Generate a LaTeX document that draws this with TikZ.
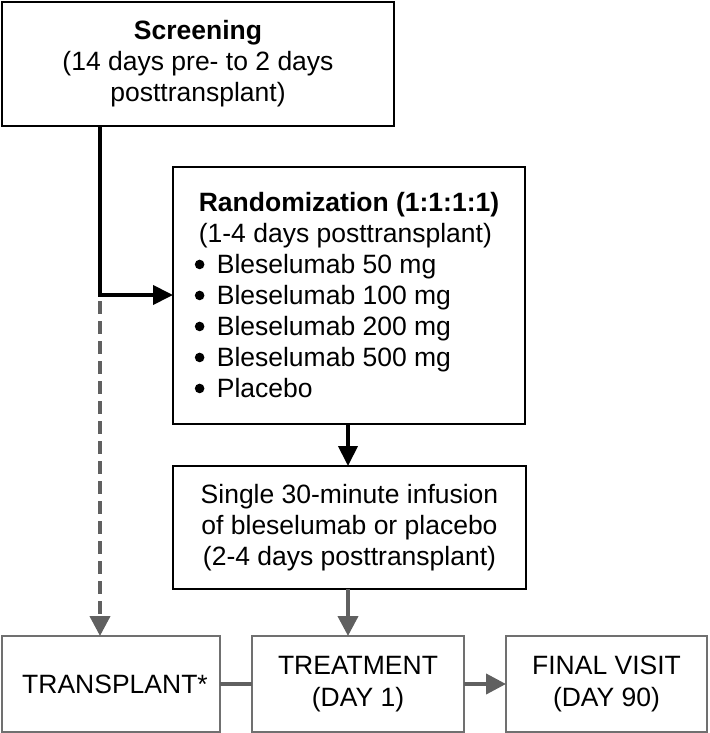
\documentclass[tikz,border=0pt]{standalone}
\usepackage{fontspec}
\setmainfont{Liberation Sans}
\usetikzlibrary{arrows.meta}
\definecolor{boxgray}{RGB}{112,112,112}
\definecolor{arrgray}{RGB}{96,96,96}
\newcommand{\bul}{\makebox[18pt][l]{\hspace*{-4pt}\tikz[x=1pt,y=1pt,baseline=0pt]\fill[black] (5,9.5) circle[radius=4.8pt];}}
\begin{document}
\begin{tikzpicture}[x=1pt,y=-1pt,
  txt/.style={font=\fontsize{26.5}{31}\selectfont, inner sep=0pt, outer sep=0pt},
  blackbox/.style={txt, draw=black, line width=2pt, rectangle},
  graybox/.style={txt, draw=boxgray, line width=2pt, rectangle},
  blackarrow/.style={draw=black, line width=4pt, -{Triangle[length=20pt,width=19pt]}},
  grayarrow/.style={draw=arrgray, line width=4pt, -{Triangle[length=20pt,width=20pt]}},
  grayline/.style={draw=arrgray, line width=4pt},
  dashline/.style={draw=arrgray, line width=4pt, dash pattern=on 13pt off 7pt, -{Triangle[length=20pt,width=20pt]}}
]
\useasboundingbox (0,0) rectangle (709,733);

\node[blackbox, minimum width=392pt, minimum height=124pt, align=center] (scr) at (198,64)
  {\textbf{Screening}\\(14 days pre- to 2 days\\posttransplant)};

\node[blackbox, minimum width=352pt, minimum height=257pt, align=left] (rnd) at (349,295.5)
  {\textbf{Randomization (1:1:1:1)}\\(1-4 days posttransplant)\\
   \bul Bleselumab 50 mg\\\bul Bleselumab 100 mg\\\bul Bleselumab 200 mg\\
   \bul Bleselumab 500 mg\\\bul Placebo};

\node[blackbox, minimum width=353pt, minimum height=123pt, align=center] (inf) at (349.5,527.5)
  {Single 30-minute infusion\\of bleselumab or placebo\\(2-4 days posttransplant)};

\node[graybox, minimum width=218pt, minimum height=96pt, align=center] (tx) at (111,684)
  {\hspace*{8pt}TRANSPLANT*};
\node[graybox, minimum width=212pt, minimum height=96pt, align=center,
      font=\fontsize{26.5}{32}\selectfont] (trt) at (358,684)
  {TREATMENT\\(DAY 1)};
\node[graybox, minimum width=201pt, minimum height=96pt, align=center,
      font=\fontsize{26.5}{32}\selectfont] (fin) at (606.5,684)
  {FINAL VISIT\\(DAY 90)};

\coordinate (corner) at (100,295);
\coordinate (dstart) at (100,301);

\draw[blackarrow] (scr.south -| corner) -- (corner) -- (rnd.west |- corner);
\draw[dashline] (dstart) -- (tx.north -| dstart);
\draw[blackarrow] (rnd.south -| 348,0) -- (inf.north -| 348,0);
\draw[grayarrow] (inf.south -| 348,0) -- (trt.north -| 348,0);
\draw[grayline] (tx.east) -- (trt.west);
\draw[grayarrow] (trt.east) -- (fin.west);
\end{tikzpicture}
\end{document}
